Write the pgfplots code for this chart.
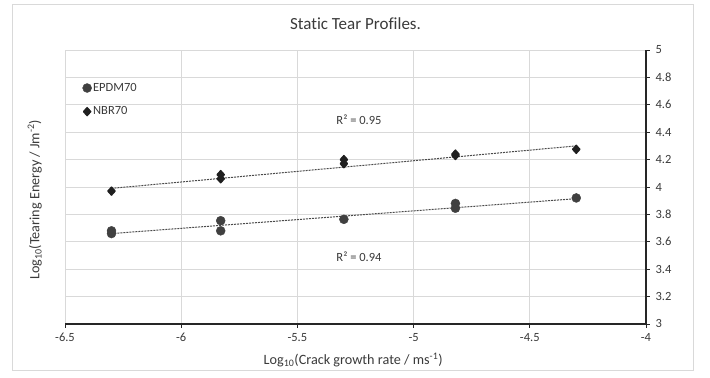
\documentclass[border=0pt]{standalone}
\usepackage{pgfplots}
\usepackage{pgfplotstable}
\pgfplotsset{compat=1.18}
\usepackage{fontspec}
\setmainfont[Ligatures={NoCommon}]{Carlito}

\definecolor{txt}{HTML}{3A3A3A}
\definecolor{gridc}{HTML}{D9D9D9}
\definecolor{epdm}{HTML}{404040}
\definecolor{nbr}{HTML}{1F1F1F}
\definecolor{trend}{HTML}{4A4A4A}

\pgfplotstableread{
x y
-6.30 3.68
-6.30 3.66
-5.83 3.754
-5.83 3.68
-5.30 3.764
-4.82 3.88
-4.82 3.845
-4.30 3.92
}\epdmdata

\pgfplotstableread{
x y
-6.30 3.97
-5.83 4.09
-5.83 4.06
-5.30 4.20
-5.30 4.17
-4.82 4.24
-4.82 4.23
-4.30 4.275
}\nbrdata

\begin{document}
\begin{tikzpicture}
\begin{axis}[
  scale only axis, width=581pt, height=274pt,
  xmin=-6.5, xmax=-4, ymin=3, ymax=5,
  xtick={-6.5,-6,-5.5,-5,-4.5,-4},
  ytick={3,3.2,3.4,3.6,3.8,4,4.2,4.4,4.6,4.8,5},
  axis y line*=right, axis x line*=bottom,
  axis line style={black!85, line width=1.3pt},
  tick align=outside, major tick length=4pt,
  tick style={black!85, line width=0.9pt},
  grid=major, major grid style={gridc, line width=0.8pt},
  /pgf/number format/assume math mode=true,
  ticklabel style={font=\fontsize{12.5}{14}\selectfont, text=txt},
  xticklabel style={yshift=-2pt},
  yticklabel style={xshift=2pt},
  title={Stat\kern0pt ic Tear Profiles.},
  title style={at={(axis description cs:0.5,1.073)}, anchor=center, font=\fontsize{17}{19}\selectfont, text=txt},
  xlabel={Log\textsubscript{10}(Crack growth rate / ms\textsuperscript{-1})},
  ylabel={Log\textsubscript{10}(Tearing Energy / Jm\textsuperscript{-2})},
  every axis x label/.style={at={(axis description cs:0.496,-0.131)}, anchor=center, font=\fontsize{14.2}{16}\selectfont, text=txt},
  every axis y label/.style={at={(axis description cs:-0.052,0.453)}, anchor=center, rotate=90, font=\fontsize{14.2}{16}\selectfont, text=txt},
  legend style={at={(axis description cs:0.03,0.885)}, anchor=north west, draw=none, fill=none,
    font=\fontsize{12.5}{14}\selectfont, text=txt, row sep=11pt, inner sep=0pt,
    nodes={inner sep=1.5pt}},
  legend cell align=left,
  legend image code/.code={\draw[#1] plot coordinates {(0pt,0pt)};},
  clip=false,
]
\path (axis description cs:-0.1119,-0.1971) rectangle (axis description cs:1.1102,1.1825);
\draw[gridc, line width=0.8pt] (axis description cs:-0.0912,-0.1679) rectangle (axis description cs:1.0809,1.1679);

\addplot[trend, line width=1pt, dash pattern=on 2pt off 1pt, forget plot] coordinates {(-6.3,3.66) (-4.3,3.915)};
\addplot[trend, line width=1pt, dash pattern=on 2pt off 1pt, forget plot] coordinates {(-6.3,3.99) (-4.3,4.30)};

\addplot[only marks, mark=*, mark size=4.5pt, draw=epdm, fill=epdm]
  table[x=x, y=y] {\epdmdata};
\addlegendentry{EPDM70}
\addplot[only marks, mark=diamond*, mark size=4pt, draw=nbr, fill=nbr,
  mark options={xscale=1.2, line width=1.4pt, line join=round}]
  table[x=x, y=y] {\nbrdata};
\addlegendentry{NBR70}

\node[font=\fontsize{12.5}{14}\selectfont, text=txt] at (axis cs:-5.235,4.489) {R² = 0.95};
\node[font=\fontsize{12.5}{14}\selectfont, text=txt] at (axis cs:-5.235,3.489) {R² = 0.94};
\end{axis}
\end{tikzpicture}
\end{document}
